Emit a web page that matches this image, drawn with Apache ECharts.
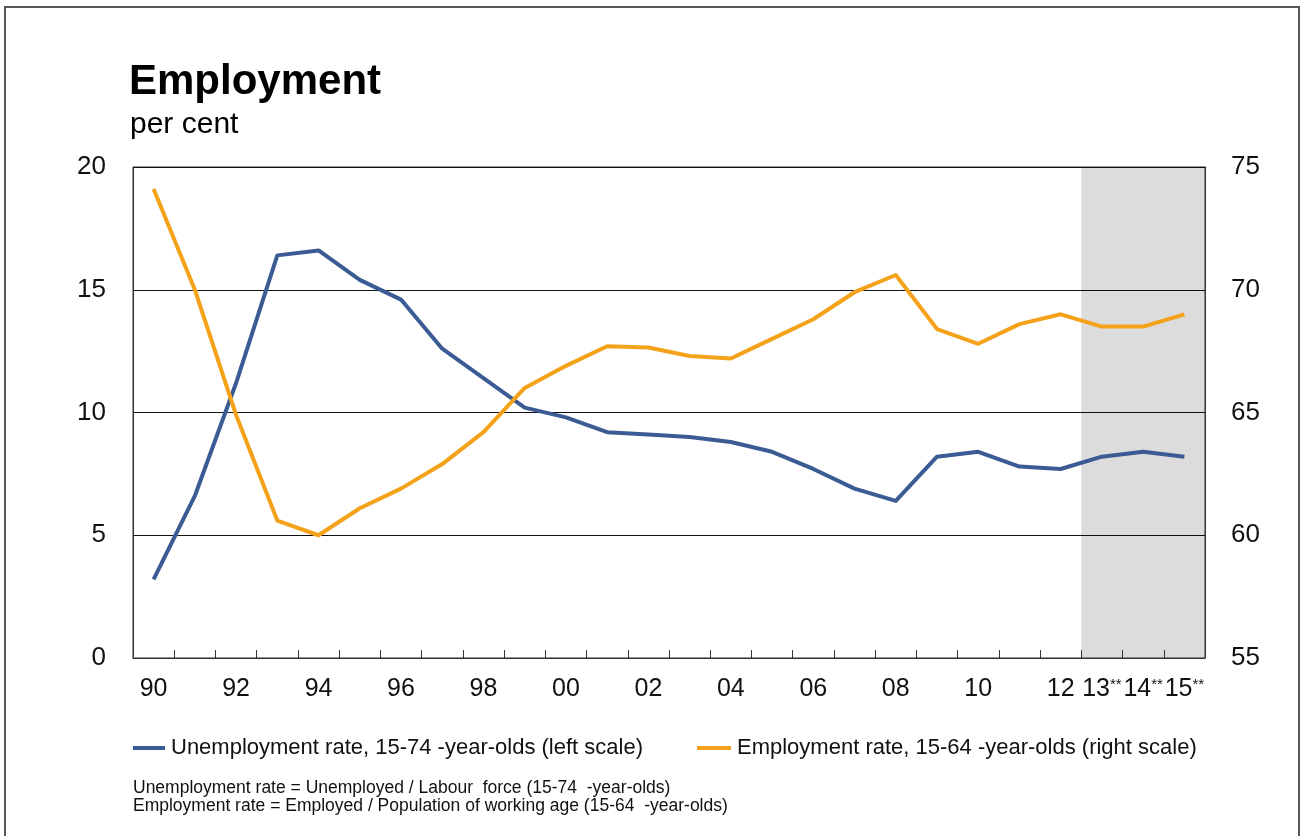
<!DOCTYPE html>
<html>
<head>
<meta charset="utf-8">
<script src="https://cdn.jsdelivr.net/npm/echarts@6/dist/echarts.min.js"></script>
<style>
html,body{margin:0;padding:0;background:#fff;}
#chart{width:1302px;height:836px;}
</style>
</head>
<body>
<div id="chart"></div>
<script>
var years=['90','91','92','93','94','95','96','97','98','99','00','01','02','03','04','05','06','07','08','09','10','11','12','13**','14**','15**'];
var unemployment=[3.2,6.6,11.2,16.4,16.6,15.4,14.6,12.6,11.4,10.2,9.8,9.2,9.1,9.0,8.8,8.4,7.7,6.9,6.4,8.2,8.4,7.8,7.7,8.2,8.4,8.2];
var employment=[74.1,70.0,64.9,60.6,60.0,61.1,61.9,62.9,64.2,66.0,66.9,67.7,67.65,67.3,67.2,68.0,68.8,69.9,70.6,68.4,67.8,68.6,69.0,68.5,68.5,69.0];
var forecastFrom='13**';
var leftTicks={min:0,max:20,interval:5};
var rightTicks={min:55,max:75,interval:5};

var font='"Liberation Sans", Arial, sans-serif';
var blue='#3B5B94';
var orange='#F5A21B';

var chart=echarts.init(document.getElementById("chart"));

// forecast band, in category slots (a slot is one year wide)
var shadeStart=years.indexOf(forecastFrom);
var shadeEnd=years.length;

function shownLabel(index){
	// every second year until 2012, then each forecast year
	return index>=shadeStart || index%2===0;
}

var option={
	animation:false,
	textStyle:{fontFamily:font},
	graphic:[
		{
			type:'rect',
			shape:{x:5,y:7,width:1294,height:840},
			style:{fill:null,stroke:'#555',lineWidth:2},
			silent:true
		},
		{
			type:'text',left:129,top:61,
			style:{text:'Employment',font:'bold 42px '+font,fill:'#000'}
		},
		{
			type:'text',left:130,top:110,
			style:{text:'per cent',font:'30px '+font,fill:'#000'}
		},
		{
			type:'text',left:133,top:779,
			style:{text:'Unemployment rate = Unemployed / Labour  force (15-74  -year-olds)\nEmployment rate = Employed / Population of working age (15-64  -year-olds)',
				font:'17.5px '+font,fill:'#111',lineHeight:18}
		}
	],
	grid:{
		left:133,right:97,top:167,bottom:178,
		show:true,borderColor:'#333',borderWidth:1,
		containLabel:false
	},
	legend:[
		{
			data:[{name:'Unemployment rate, 15-74 -year-olds (left scale)'}],
			left:133,top:737,padding:0,
			itemWidth:32,itemHeight:4,itemGap:10,
			icon:'rect',
			textStyle:{fontSize:22,color:'#111',fontFamily:font,padding:[0,0,0,1]},
			selectedMode:false
		},
		{
			data:[{name:'Employment rate, 15-64 -year-olds (right scale)'}],
			left:697,top:737,padding:0,
			itemWidth:34,itemHeight:4,itemGap:10,
			icon:'rect',
			textStyle:{fontSize:22,color:'#111',fontFamily:font,padding:[0,0,0,1]},
			selectedMode:false
		}
	],
	xAxis:[
		{
			type:'category',
			data:years,
			boundaryGap:true,
			axisLine:{show:true,lineStyle:{color:'#333',width:1}},
			axisTick:{show:true,inside:true,length:8,interval:0,lineStyle:{color:'#333'}},
			axisLabel:{
				interval:function(index){return shownLabel(index);},
				margin:19,
				fontSize:25,
				color:'#111',
				fontFamily:font,
				formatter:function(v){
					if(v.indexOf('**')>0)return v.replace('**','')+'{s|**}';
					return v;
				},
				rich:{s:{fontSize:15,verticalAlign:'top',color:'#111',padding:[0,0,10,0]}}
			},
			splitLine:{show:false}
		},
		{
			// hidden helper scale so the shading covers whole year slots
			type:'value',
			min:0,max:years.length,
			show:false
		}
	],
	yAxis:[
		{
			type:'value',
			min:leftTicks.min,max:leftTicks.max,interval:leftTicks.interval,
			axisLine:{show:true,lineStyle:{color:'#333'}},
			axisTick:{show:false},
			axisLabel:{fontSize:26,color:'#111',margin:27,fontFamily:font},
			splitLine:{show:true,lineStyle:{color:'#111',width:1}}
		},
		{
			type:'value',
			position:'right',
			min:rightTicks.min,max:rightTicks.max,interval:rightTicks.interval,
			axisLine:{show:true,lineStyle:{color:'#333'}},
			axisTick:{show:false},
			axisLabel:{fontSize:26,color:'#111',margin:26,fontFamily:font},
			splitLine:{show:false}
		}
	],
	series:[
		{
			name:'forecast',
			type:'line',
			xAxisIndex:1,
			yAxisIndex:0,
			data:[],
			z:-1,
			silent:true,
			markArea:{
				silent:true,
				z:-1,
				itemStyle:{color:'#DCDCDC'},
				data:[[{xAxis:shadeStart},{xAxis:shadeEnd}]]
			}
		},
		{
			name:'Unemployment rate, 15-74 -year-olds (left scale)',
			type:'line',
			yAxisIndex:0,
			data:unemployment,
			symbol:'none',
			color:blue,
			lineStyle:{width:4,color:blue,join:'round'},
			z:3
		},
		{
			name:'Employment rate, 15-64 -year-olds (right scale)',
			type:'line',
			yAxisIndex:1,
			data:employment,
			symbol:'none',
			color:orange,
			lineStyle:{width:4,color:orange,join:'round'},
			z:3
		}
	]
};
chart.setOption(option);
</script>
</body>
</html>
